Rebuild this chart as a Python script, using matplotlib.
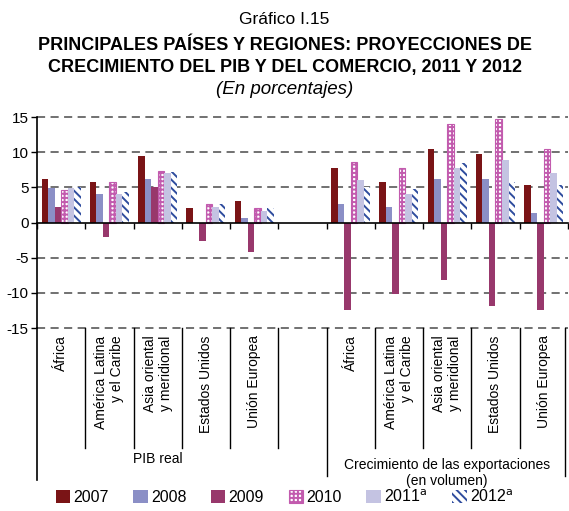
import numpy as np
import matplotlib
matplotlib.use("Agg")
import matplotlib.pyplot as plt
import matplotlib.transforms as mtransforms

plt.rcParams['font.family'] = ['Liberation Sans', 'DejaVu Sans']
plt.rcParams['hatch.linewidth'] = 1.4

# data (percent) - first 5 = PIB real, last 5 = exportaciones
regiones = ["África", "América Latina\ny el Caribe", "Asia oriental\ny meridional",
            "Estados Unidos", "Unión Europea"]
anios = ["2007", "2008", "2009", "2010", "2011$^{\\rm a}$", "2012$^{\\rm a}$"]

pib_2007 = [6.2, 5.7, 9.4, 2.0, 3.0]
pib_2008 = [4.9, 4.1, 6.2, 0.0, 0.6]
pib_2009 = [2.2, -2.0, 5.1, -2.6, -4.2]
pib_2010 = [4.6, 5.7, 7.3, 2.7, 2.0]
pib_2011 = [4.9, 4.1, 7.1, 2.2, 1.6]
pib_2012 = [5.1, 4.3, 7.2, 2.7, 2.0]

exp_2007 = [7.8, 5.7, 10.5, 9.7, 5.4]
exp_2008 = [2.7, 2.2, 6.2, 6.2, 1.4]
exp_2009 = [-12.4, -10.1, -8.2, -11.9, -12.4]
exp_2010 = [8.6, 7.8, 14.0, 14.7, 10.5]
exp_2011 = [6.0, 4.1, 7.8, 8.9, 7.1]
exp_2012 = [5.0, 4.8, 8.4, 5.7, 5.4]

pib = [pib_2007, pib_2008, pib_2009, pib_2010, pib_2011, pib_2012]
exp = [exp_2007, exp_2008, exp_2009, exp_2010, exp_2011, exp_2012]

# styles per series: (facecolor, edgecolor, hatch, linewidth)
estilos = [
    ("#7a1416", "#7a1416", None, 0),
    ("#8b8fc6", "#8b8fc6", None, 0),
    ("#98386c", "#98386c", None, 0),
    ("white", "#c25bae", "++++", 0.8),
    ("#c4c3e2", "#c4c3e2", None, 0),
    ("white", "#2e4c9e", "\\\\\\\\", 0),
]

fig = plt.figure(figsize=(5.69, 5.11), dpi=100)
ax = fig.add_axes([0.065, 0.358, 0.933, 0.413])

x = np.array([0, 1, 2, 3, 4, 6, 7, 8, 9, 10])
w = 0.135
for i in range(6):
    vals = pib[i] + exp[i]
    fc, ec, h, lw = estilos[i]
    ax.bar(x + (i - 2.5) * w, vals, w, color=fc, edgecolor=ec, hatch=h,
           linewidth=lw, label=anios[i], zorder=3)

ax.set_xlim(-0.5, 10.5)
ax.set_ylim(-15, 15)
ax.set_yticks([-15, -10, -5, 0, 5, 10, 15])
ax.set_yticklabels(["-15", "-10", "-5", "0", "5", "10", "15"], fontsize=11)
for yv in [-15, -10, -5, 5, 10, 15]:
    ax.axhline(yv, color="#666666", lw=1.3, ls=(0, (4.5, 3)), zorder=1, clip_on=False)

ax.spines['top'].set_visible(False)
ax.spines['right'].set_visible(False)
ax.spines['bottom'].set_position(('data', 0))
ax.spines['bottom'].set_linewidth(1.2)
ax.spines['bottom'].set_zorder(4)
ax.spines['left'].set_linewidth(1.2)
ax.set_xticks(np.arange(-0.5, 11, 1))
ax.set_xticklabels([])
ax.tick_params(axis='x', direction='out', length=4, width=1)
ax.tick_params(axis='y', direction='out', length=4, width=1, pad=2)

# label table below the plot
trans = mtransforms.blended_transform_factory(ax.transData, ax.transAxes)
ax.plot([-0.5, -0.5], [0, -0.72], color="black", lw=1.2, transform=trans, clip_on=False)
for b in [0.5, 1.5, 2.5, 3.5, 4.5, 6.5, 7.5, 8.5, 9.5]:
    ax.plot([b, b], [0, -0.57], color="black", lw=1, transform=trans, clip_on=False)
for b in [5.5, 10.45]:
    ax.plot([b, b], [0, -0.70], color="black", lw=1, transform=trans, clip_on=False)

for k, xi in enumerate(x):
    ax.text(xi, -0.035, regiones[k % 5], rotation=90, ha='center', va='top',
            multialignment='right', fontsize=10, transform=trans)

ax.text(2.0, -0.62, "PIB real", ha='center', va='center', fontsize=10, transform=trans)
ax.text(8.0, -0.65, "Crecimiento de las exportaciones", ha='center', va='center',
        fontsize=10, transform=trans)
ax.text(8.0, -0.725, "(en volumen)", ha='center', va='center', fontsize=10, transform=trans)

# titles
fig.text(0.5, 1 - 20 / 511, "Gráfico I.15", ha='center', va='center', fontsize=12.5)
fig.text(0.5, 1 - 45 / 511, "PRINCIPALES PAÍSES Y REGIONES: PROYECCIONES DE",
         ha='center', va='center', fontsize=13, fontweight='bold')
fig.text(0.5, 1 - 67 / 511, "CRECIMIENTO DEL PIB Y DEL COMERCIO, 2011 Y 2012",
         ha='center', va='center', fontsize=13, fontweight='bold')
fig.text(0.5, 1 - 90 / 511, "(En porcentajes)", ha='center', va='center',
         fontsize=13.5, style='italic')

fig.legend(loc='center', bbox_to_anchor=(0.5, 1 - 497 / 511), ncol=6, frameon=False,
           fontsize=11.5, handlelength=0.9, handleheight=0.9, handletextpad=0.2,
           columnspacing=1.55, borderaxespad=0)

fig.savefig("out.png", dpi=100)
